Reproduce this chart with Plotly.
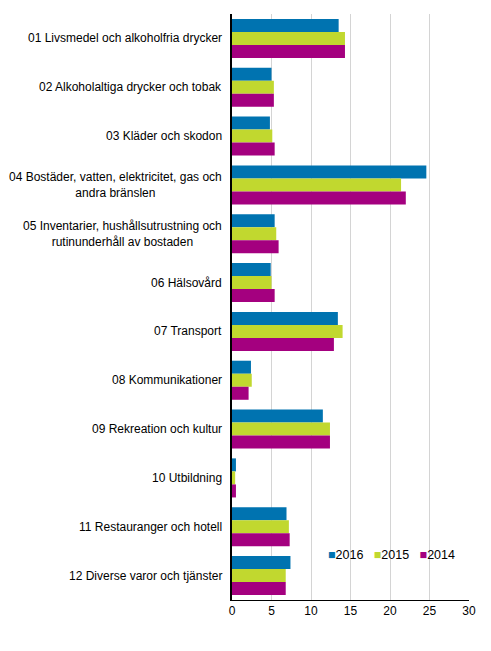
import plotly.graph_objects as go

# Kategorier och värden (andel av konsumtionsutgifter, %)
kategorier = [
    '01 Livsmedel och alkoholfria drycker',
    '02 Alkoholaltiga drycker och tobak',
    '03 Kläder och skodon',
    '04 Bostäder, vatten, elektricitet, gas och<br>andra bränslen',
    '05 Inventarier, hushållsutrustning och<br>rutinunderhåll av bostaden',
    '06 Hälsovård',
    '07 Transport',
    '08 Kommunikationer',
    '09 Rekreation och kultur',
    '10 Utbildning',
    '11 Restauranger och hotell',
    '12 Diverse varor och tjänster',
]

v2016 = [13.5, 5.0, 4.8, 24.6, 5.4, 4.9, 13.4, 2.4, 11.5, 0.5, 6.9, 7.4]
v2015 = [14.3, 5.3, 5.1, 21.4, 5.6, 5.0, 14.0, 2.5, 12.4, 0.4, 7.2, 6.8]
v2014 = [14.3, 5.3, 5.4, 22.0, 5.9, 5.4, 12.9, 2.1, 12.4, 0.5, 7.3, 6.8]

serier = [('2016', v2016, '#0073b0'), ('2015', v2015, '#c1d82f'), ('2014', v2014, '#a4007f')]

fig = go.Figure()
for namn, varden, farg in serier:
    fig.add_trace(go.Bar(
        y=kategorier,
        x=varden,
        name=namn,
        orientation='h',
        marker=dict(color=farg, line=dict(width=0)),
        showlegend=False,
    ))

# Kategorietiketter som annotationer (centrerad radbrytning)
for kat in kategorier:
    fig.add_annotation(
        x=0, xref='paper', y=kat, yref='y',
        text=kat, showarrow=False,
        xanchor='right', xshift=-8, align='center',
        font=dict(family='Liberation Sans, Arial', size=12, color='#000000'),
    )

# Kompakt legend som text (plotlys egen legend blir för bred här)
legend_text = '&nbsp;&nbsp;&nbsp;'.join(
    f'<span style="color:{farg}">■</span>{namn}' for namn, _, farg in serier
)
fig.add_annotation(
    x=0.95, xref='paper', y=0.077, yref='paper',
    text=legend_text, showarrow=False,
    xanchor='right', yanchor='middle',
    font=dict(family='Liberation Sans, Arial', size=12.5, color='#000000'),
)

# sidan har 8px marginal runt figuren
fig.update_layout(
    width=483, height=643,
    margin=dict(l=224, r=22, t=6, b=51),
    barmode='group',
    bargap=0.2,
    bargroupgap=0,
    plot_bgcolor='white',
    paper_bgcolor='white',
    font=dict(family='Liberation Sans, Arial', size=12, color='#000000'),
    xaxis=dict(
        range=[0, 30],
        dtick=5,
        showgrid=True,
        gridcolor='#d4d4d4',
        gridwidth=1,
        zeroline=False,
        showline=True,
        linecolor='#000000',
        linewidth=1,
        ticks='',
        fixedrange=True,
    ),
    yaxis=dict(
        autorange='reversed',
        showticklabels=False,
        showline=True,
        linecolor='#000000',
        linewidth=1.5,
        ticks='',
        showgrid=False,
    ),
)

fig.write_html('out.html')
